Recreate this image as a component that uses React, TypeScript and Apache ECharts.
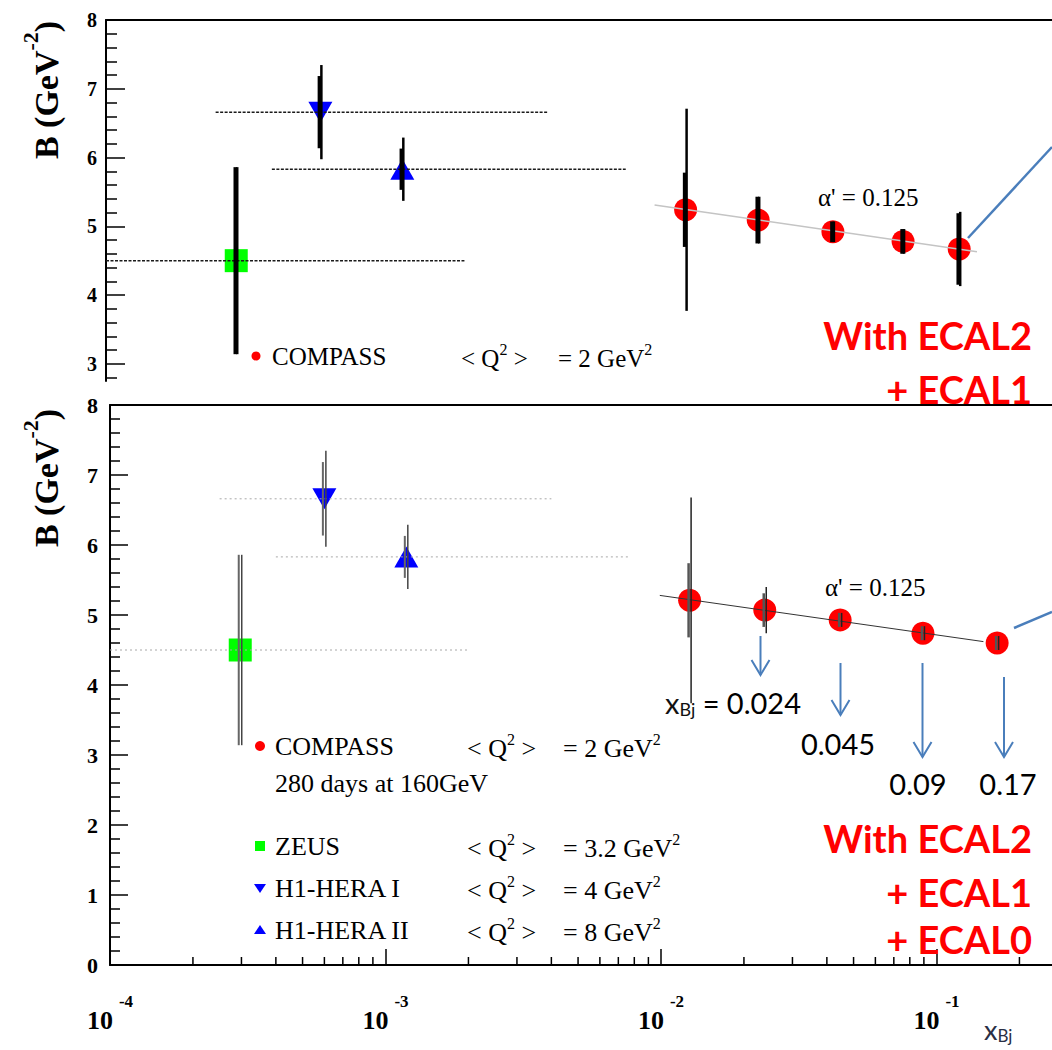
import React, { useEffect, useRef } from 'react';
import * as echarts from 'echarts';

// ---------------- data ----------------
const otherNames = ['ZEUS', 'H1-HERA I', 'H1-HERA II'];
const otherQ2 = ['3.2', '4', '8'];
const otherX = [2.97e-4, 6.0e-4, 1.19e-3];
const otherB = [4.5, 6.66, 5.83];
const otherTotErr = [1.36, 0.685, 0.46];
const otherStatErr = [1.36, 0.525, 0.3];
const otherRangeFrom = [1e-4, 2.5e-4, 4e-4];
const otherRangeTo = [2e-3, 4e-3, 7.7e-3];

// COMPASS projection, ECAL2 + ECAL1 (upper panel)
const compassTopX = [0.0127, 0.0233, 0.0435, 0.0782, 0.125];
const compassTopB = [5.24, 5.09, 4.92, 4.78, 4.67];
const compassTopTot = [1.47, 0.34, 0.15, 0.18, 0.54];
const compassTopStat = [0.54, 0.34, 0.15, 0.18, 0.52];
const fitTopX = [0.0098, 0.145];
const fitTopB = [5.31, 4.63];

// COMPASS projection, ECAL2 + ECAL1 + ECAL0 (lower panel)
const compassBotX = [0.0127, 0.0238, 0.0447, 0.0893, 0.166];
const compassBotB = [5.21, 5.07, 4.93, 4.74, 4.6];
const compassBotTot = [1.47, 0.33, 0.1, 0.1, 0.1];
const compassBotStat = [0.53, 0.24, 0.1, 0.1, 0.1];
const fitBotX = [0.0099, 0.148];
const fitBotB = [5.28, 4.62];

const compassName = 'COMPASS';
const compassQ2 = '2';
const compassNote = '280 days at 160GeV';
const alphaPrime = '0.125';
const xbjLabels = ['0.024', '0.045', '0.09', '0.17'];
const topYTicks = [3, 4, 5, 6, 7, 8];
const xDecades = [1e-4, 1e-3, 1e-2, 1e-1];
const minorMultipliers = [2, 3, 4, 5, 6, 7, 8, 9];

// ---------------- styles ----------------
const SERIF = '"Liberation Serif", "Times New Roman", serif';
const SANS = 'Lato, "Open Sans", sans-serif';
const RED = '#ff0000';
const GREEN = '#00ff00';
const BLUE = '#0000ff';
const OFFICE_BLUE = '#4a7ebb';

function pairs(xs: number[], ys: number[]) {
  return xs.map((x, i) => [x, ys[i]]);
}
function errData(xs: number[], bs: number[], errs: number[]) {
  return xs.map((x, i) => [x, bs[i] - errs[i], bs[i] + errs[i]]);
}

function errSeries(xi: number, data: number[][], color: string, width: number, dx: number) {
  return {
    type: 'custom',
    xAxisIndex: xi,
    yAxisIndex: xi === 0 ? 0 : 1,
    silent: true,
    z: 5,
    data,
    encode: { x: 0, y: [1, 2] },
    renderItem: (params: any, api: any) => {
      const p1 = api.coord([api.value(0), api.value(1)]);
      const p2 = api.coord([api.value(0), api.value(2)]);
      return {
        type: 'line',
        shape: { x1: p1[0] + dx, y1: p1[1], x2: p2[0] + dx, y2: p2[1] },
        style: { stroke: color, lineWidth: width },
      };
    },
  };
}

function rangeSeries(xi: number, color: string, width: number, dash: number[]) {
  return {
    type: 'custom',
    xAxisIndex: xi,
    yAxisIndex: xi === 0 ? 0 : 1,
    silent: true,
    z: 4,
    data: otherRangeFrom.map((f, i) => [f, otherRangeTo[i], otherB[i]]),
    encode: { x: [0, 1], y: 2 },
    renderItem: (params: any, api: any) => {
      const p1 = api.coord([api.value(0), api.value(2)]);
      const p2 = api.coord([api.value(1), api.value(2)]);
      return {
        type: 'line',
        shape: { x1: p1[0], y1: p1[1], x2: p2[0], y2: p2[1] },
        style: { stroke: color, lineWidth: width, lineDash: dash },
      };
    },
  };
}

function markerSeries(xi: number, cX: number[], cB: number[]) {
  const yi = xi === 0 ? 0 : 1;
  const base = { type: 'scatter', xAxisIndex: xi, yAxisIndex: yi, silent: true, z: 2 };
  return [
    { ...base, name: otherNames[0], symbol: 'rect', symbolSize: 23, itemStyle: { color: GREEN, opacity: 1 }, data: [[otherX[0], otherB[0]]] },
    { ...base, name: otherNames[1], symbol: 'triangle', symbolRotate: 180, symbolSize: [24, 21], itemStyle: { color: BLUE, opacity: 1 }, data: [[otherX[1], otherB[1]]] },
    { ...base, name: otherNames[2], symbol: 'triangle', symbolSize: [24, 21], itemStyle: { color: BLUE, opacity: 1 }, data: [[otherX[2], otherB[2]]] },
    { ...base, name: compassName, symbol: 'circle', symbolSize: 23, itemStyle: { color: RED, opacity: 1 }, data: pairs(cX, cB) },
  ];
}

function text(x: number, y: number, t: string, size: number, family: string, extra: any = {}) {
  const align = extra.align || 'left';
  return {
    type: 'text',
    x,
    y,
    z: 100,
    silent: true,
    rotation: extra.rotation || 0,
    style: {
      text: t,
      fontSize: size,
      fontFamily: family,
      fontWeight: extra.weight || 'normal',
      fill: extra.color || '#000',
      align,
      textAlign: align,
      verticalAlign: 'middle',
      textVerticalAlign: 'middle',
      ...(extra.rich ? { rich: extra.rich } : {}),
    },
  };
}

// serif text with superscripts written as {s|...}
function supText(x: number, y: number, t: string, size: number) {
  return text(x, y, t, size, SERIF, {
    rich: {
      t: { fontSize: size, fontFamily: SERIF, fill: '#000', lineHeight: 30, verticalAlign: 'bottom' },
      s: { fontSize: Math.round(size * 0.62), fontFamily: SERIF, fill: '#000', lineHeight: 12, verticalAlign: 'top' },
    },
  });
}

function yTitle(cx: number, cy: number) {
  return text(cx, cy, '{b|B (GeV}{s|-2}{b|)}', 34, SERIF, {
    weight: 'bold',
    align: 'center',
    rotation: Math.PI / 2,
    rich: {
      b: { fontSize: 34, fontFamily: SERIF, fontWeight: 'bold', fill: '#000', lineHeight: 44, verticalAlign: 'bottom' },
      s: { fontSize: 22, fontFamily: SERIF, fontWeight: 'bold', fill: '#000', lineHeight: 4, verticalAlign: 'top' },
    },
  });
}

function arrow(x: number, y1: number, y2: number) {
  return {
    type: 'group',
    silent: true,
    z: 100,
    children: [
      { type: 'line', shape: { x1: x, y1, x2: x, y2 }, style: { stroke: OFFICE_BLUE, lineWidth: 2 } },
      { type: 'polyline', shape: { points: [[x - 9, y2 - 15], [x, y2], [x + 9, y2 - 15]] }, style: { stroke: OFFICE_BLUE, lineWidth: 2, fill: 'none' } },
    ],
  };
}

function legendRow(nx: number, qx: number, ex: number, y: number, size: number, name: string, q2: string, marker: any) {
  return [
    marker,
    text(nx, y, name, size, SERIF),
    supText(qx, y, '{t|< Q}{s|2}{t| >}', size),
    supText(ex, y, '{t|= ' + q2 + ' GeV}{s|2}', size),
  ];
}

function buildOption(): any {
  const minorTickValues = xDecades.flatMap((d) => minorMultipliers.map((m) => m * d));

  const xBase = { type: 'log', logBase: 10, min: 1e-4, max: 1, splitLine: { show: false } };
  const yLabelBase = { fontFamily: SERIF, fontWeight: 'bold', color: '#000' };

  const graphic: any[] = [
    // ---- upper panel ----
    yTitle(41, 90),
    ...legendRow(272, 461, 558, 356, 25, compassName, compassQ2,
      { type: 'circle', shape: { cx: 256, cy: 356, r: 4.5 }, style: { fill: RED }, silent: true, z: 100 }),
    text(818, 197, "α' = " + alphaPrime, 25, SERIF),
    text(1032, 335, 'With ECAL2', 38, SANS, { weight: 'bold', color: RED, align: 'right' }),
    text(1032, 389, '+ ECAL1', 38, SANS, { weight: 'bold', color: RED, align: 'right' }),
    { type: 'line', shape: { x1: 968, y1: 238, x2: 1052, y2: 147 }, style: { stroke: OFFICE_BLUE, lineWidth: 2.5 }, silent: true, z: 100 },

    // ---- lower panel ----
    yTitle(41, 478),
    ...legendRow(275, 467, 563, 746, 26, compassName, compassQ2,
      { type: 'circle', shape: { cx: 260, cy: 746, r: 5 }, style: { fill: RED }, silent: true, z: 100 }),
    text(275, 783, compassNote, 26, SERIF),
    ...legendRow(275, 467, 563, 846, 26, otherNames[0], otherQ2[0],
      { type: 'rect', shape: { x: 255, y: 841, width: 10, height: 10 }, style: { fill: GREEN }, silent: true, z: 100 }),
    ...legendRow(275, 467, 563, 888, 26, otherNames[1], otherQ2[1],
      { type: 'polygon', shape: { points: [[254, 884], [266, 884], [260, 893]] }, style: { fill: BLUE }, silent: true, z: 100 }),
    ...legendRow(275, 467, 563, 930, 26, otherNames[2], otherQ2[2],
      { type: 'polygon', shape: { points: [[254, 934], [266, 934], [260, 925]] }, style: { fill: BLUE }, silent: true, z: 100 }),
    text(825, 587, "α' = " + alphaPrime, 25, SERIF),
    text(1032, 838, 'With ECAL2', 38, SANS, { weight: 'bold', color: RED, align: 'right' }),
    text(1032, 892, '+ ECAL1', 38, SANS, { weight: 'bold', color: RED, align: 'right' }),
    text(1032, 939, '+ ECAL0', 38, SANS, { weight: 'bold', color: RED, align: 'right' }),
    { type: 'line', shape: { x1: 1014, y1: 628, x2: 1052, y2: 612 }, style: { stroke: OFFICE_BLUE, lineWidth: 2.5 }, silent: true, z: 100 },
    arrow(760.5, 636, 675),
    arrow(840.5, 663, 715),
    arrow(922.5, 663, 757),
    arrow(1004, 677, 757),
    text(665, 703, '{x|x}{s|Bj}{n| = ' + xbjLabels[0] + '}', 29, SANS, {
      rich: {
        x: { fontSize: 29, fontFamily: SANS, fill: '#111', lineHeight: 30, verticalAlign: 'top' },
        s: { fontSize: 18, fontFamily: SANS, fill: '#111', lineHeight: 10, verticalAlign: 'bottom' },
        n: { fontSize: 29, fontFamily: SANS, fill: '#000', lineHeight: 30, verticalAlign: 'top' },
      },
    }),
    text(838, 743, xbjLabels[1], 29, SANS, { align: 'center' }),
    text(918, 783, xbjLabels[2], 29, SANS, { align: 'center' }),
    text(1008, 783, xbjLabels[3], 29, SANS, { align: 'center' }),
    text(984, 1030, '{x|x}{s|Bj}', 26, SANS, {
      rich: {
        x: { fontSize: 27, fontFamily: SANS, fill: '#2a2f45', lineHeight: 28, verticalAlign: 'top' },
        s: { fontSize: 17, fontFamily: SANS, fill: '#2a2f45', lineHeight: 8, verticalAlign: 'bottom' },
      },
    }),
  ];

  return {
    animation: false,
    backgroundColor: '#fff',
    grid: [
      { left: 106, top: 20, width: 1102, height: 361, show: false, containLabel: false, outerBoundsMode: 'none' },
      { left: 110, top: 405, width: 1102, height: 560, show: false, containLabel: false, outerBoundsMode: 'none' },
    ],
    xAxis: [
      {
        ...xBase,
        gridIndex: 0,
        position: 'top',
        axisLine: { show: true, lineStyle: { color: '#000', width: 2 } },
        axisTick: { show: false },
        axisLabel: { show: false },
      },
      {
        ...xBase,
        gridIndex: 1,
        position: 'bottom',
        axisLine: { show: true, lineStyle: { color: '#000', width: 2 } },
        axisTick: { show: true, inside: true, length: 16, lineStyle: { color: '#000', width: 1.5 } },
        axisLabel: {
          margin: 28,
          formatter: (v: number) => {
            const e = Math.round(Math.log10(v));
            return e >= 0 ? '' : '{b|10}{s|' + e + '}';
          },
          rich: {
            b: { fontFamily: SERIF, fontWeight: 'bold', fontSize: 26, color: '#000', lineHeight: 40, verticalAlign: 'bottom' },
            s: { fontFamily: SERIF, fontWeight: 'bold', fontSize: 17, color: '#000', lineHeight: 10, verticalAlign: 'top', padding: [0, 0, 0, 6] },
          },
        },
      },
      {
        ...xBase,
        gridIndex: 1,
        position: 'top',
        axisLine: { show: true, lineStyle: { color: '#000', width: 2 } },
        axisTick: { show: false },
        axisLabel: { show: false },
      },
    ],
    yAxis: [
      {
        type: 'value',
        gridIndex: 0,
        min: 2.75,
        max: 8,
        minInterval: 1,
        maxInterval: 1,
        splitLine: { show: false },
        axisLine: { show: true, lineStyle: { color: '#000', width: 2 } },
        axisTick: { show: true, inside: true, length: 19, customValues: topYTicks, lineStyle: { color: '#000', width: 1.5 } },
        minorTick: { show: true, splitNumber: 5, length: 11, lineStyle: { color: '#000', width: 1.5 } },
        axisLabel: { ...yLabelBase, fontSize: 20, margin: 9, customValues: topYTicks },
      },
      {
        type: 'value',
        gridIndex: 1,
        min: 0,
        max: 8,
        interval: 1,
        splitLine: { show: false },
        axisLine: { show: true, lineStyle: { color: '#000', width: 2 } },
        axisTick: { show: true, inside: true, length: 18, lineStyle: { color: '#000', width: 1.5 } },
        minorTick: { show: true, splitNumber: 5, length: 10, lineStyle: { color: '#000', width: 1.5 } },
        axisLabel: { ...yLabelBase, fontSize: 22, margin: 12 },
      },
    ],
    series: [
      // ---- upper panel ----
      ...markerSeries(0, compassTopX, compassTopB),
      rangeSeries(0, '#1a1a1a', 1.5, [3, 1.5]),
      {
        type: 'line', xAxisIndex: 0, yAxisIndex: 0, silent: true, z: 4, symbol: 'none',
        lineStyle: { color: '#c4c4c4', width: 1.5 }, data: pairs(fitTopX, fitTopB),
      },
      errSeries(0, errData(otherX, otherB, otherTotErr), '#000', 2.5, 1),
      errSeries(0, errData(otherX, otherB, otherStatErr), '#000', 3.5, -1),
      errSeries(0, errData(compassTopX, compassTopB, compassTopTot), '#000', 2.5, 1),
      errSeries(0, errData(compassTopX, compassTopB, compassTopStat), '#000', 3.5, -1),

      // ---- lower panel ----
      ...markerSeries(1, compassBotX, compassBotB),
      rangeSeries(1, '#a8a8a8', 1, [2, 3]),
      {
        type: 'line', xAxisIndex: 1, yAxisIndex: 1, silent: true, z: 4, symbol: 'none',
        lineStyle: { color: '#333', width: 1 }, data: pairs(fitBotX, fitBotB),
      },
      errSeries(1, errData(otherX, otherB, otherTotErr), '#444', 1.5, 1.5),
      errSeries(1, errData(otherX, otherB, otherStatErr), '#666', 2, -1.5),
      errSeries(1, errData(compassBotX, compassBotB, compassBotTot), '#222', 1.5, 1.5),
      errSeries(1, errData(compassBotX, compassBotB, compassBotStat), '#555', 2.5, -1),
      {
        type: 'custom',
        xAxisIndex: 1,
        yAxisIndex: 1,
        silent: true,
        z: 6,
        data: minorTickValues.map((v) => [v, 0]),
        encode: { x: 0, y: 1 },
        renderItem: (params: any, api: any) => {
          const p = api.coord([api.value(0), 0]);
          return { type: 'line', shape: { x1: p[0], y1: p[1], x2: p[0], y2: p[1] - 8 }, style: { stroke: '#000', lineWidth: 1.5 } };
        },
      },
    ],
    graphic,
  };
}

export default function App() {
  const ref = useRef<HTMLDivElement>(null);
  useEffect(() => {
    document.body.style.margin = '0';
    const chart = echarts.init(ref.current as HTMLDivElement, null, { renderer: 'svg' });
    chart.setOption(buildOption());
    return () => chart.dispose();
  }, []);
  return <div ref={ref} style={{ width: 1052, height: 1050, background: '#fff' }} />;
}
